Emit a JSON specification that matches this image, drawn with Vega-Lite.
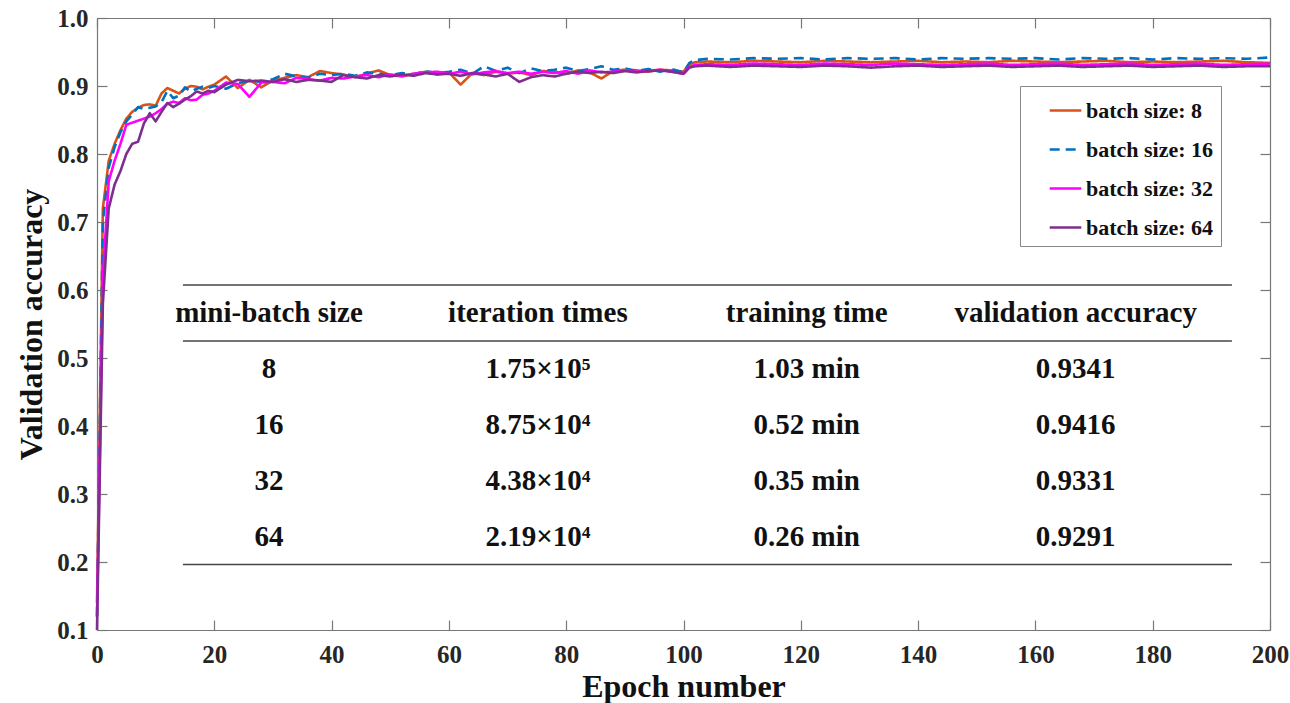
{
  "$schema": "https://vega.github.io/schema/vega-lite/v6.json",
  "width": 1173,
  "height": 612,
  "autosize": {"type": "none"},
  "padding": {"left": 97, "top": 18, "right": 20, "bottom": 73},
  "background": "white",
  "config": {"view": {"stroke": null}, "font": "Liberation Serif"},
  "datasets": {
    "curves": [
      {"e":0,"s":"8","a":0.14},{"e":1,"s":"8","a":0.72},{"e":2,"s":"8","a":0.79},{"e":3,"s":"8","a":0.815},{"e":4,"s":"8","a":0.835},{"e":5,"s":"8","a":0.852},{"e":6,"s":"8","a":0.862},{"e":7,"s":"8","a":0.868},{"e":8,"s":"8","a":0.872},{"e":9,"s":"8","a":0.873},{"e":10,"s":"8","a":0.871},{"e":11,"s":"8","a":0.889},{"e":12,"s":"8","a":0.897},{"e":13,"s":"8","a":0.893},{"e":14,"s":"8","a":0.889},{"e":15,"s":"8","a":0.896},{"e":16,"s":"8","a":0.9},{"e":17,"s":"8","a":0.899},{"e":18,"s":"8","a":0.895},{"e":19,"s":"8","a":0.899},{"e":20,"s":"8","a":0.902},{"e":22,"s":"8","a":0.914},{"e":24,"s":"8","a":0.897},{"e":26,"s":"8","a":0.909},{"e":28,"s":"8","a":0.898},{"e":30,"s":"8","a":0.908},{"e":32,"s":"8","a":0.912},{"e":34,"s":"8","a":0.916},{"e":36,"s":"8","a":0.913},{"e":38,"s":"8","a":0.922},{"e":40,"s":"8","a":0.919},{"e":42,"s":"8","a":0.917},{"e":44,"s":"8","a":0.913},{"e":46,"s":"8","a":0.918},{"e":48,"s":"8","a":0.923},{"e":50,"s":"8","a":0.916},{"e":52,"s":"8","a":0.914},{"e":54,"s":"8","a":0.918},{"e":56,"s":"8","a":0.921},{"e":58,"s":"8","a":0.917},{"e":60,"s":"8","a":0.92},{"e":62,"s":"8","a":0.902},{"e":64,"s":"8","a":0.919},{"e":66,"s":"8","a":0.916},{"e":68,"s":"8","a":0.921},{"e":70,"s":"8","a":0.918},{"e":72,"s":"8","a":0.92},{"e":74,"s":"8","a":0.916},{"e":76,"s":"8","a":0.922},{"e":78,"s":"8","a":0.921},{"e":80,"s":"8","a":0.918},{"e":82,"s":"8","a":0.923},{"e":84,"s":"8","a":0.92},{"e":86,"s":"8","a":0.911},{"e":88,"s":"8","a":0.922},{"e":90,"s":"8","a":0.924},{"e":92,"s":"8","a":0.923},{"e":94,"s":"8","a":0.921},{"e":96,"s":"8","a":0.924},{"e":98,"s":"8","a":0.923},{"e":100,"s":"8","a":0.921},{"e":101,"s":"8","a":0.932},{"e":102,"s":"8","a":0.935},{"e":104,"s":"8","a":0.936},{"e":108,"s":"8","a":0.935},{"e":112,"s":"8","a":0.937},{"e":116,"s":"8","a":0.936},{"e":120,"s":"8","a":0.935},{"e":124,"s":"8","a":0.937},{"e":128,"s":"8","a":0.936},{"e":132,"s":"8","a":0.935},{"e":136,"s":"8","a":0.936},{"e":140,"s":"8","a":0.937},{"e":144,"s":"8","a":0.935},{"e":148,"s":"8","a":0.936},{"e":152,"s":"8","a":0.935},{"e":156,"s":"8","a":0.937},{"e":160,"s":"8","a":0.936},{"e":164,"s":"8","a":0.935},{"e":168,"s":"8","a":0.936},{"e":172,"s":"8","a":0.937},{"e":176,"s":"8","a":0.935},{"e":180,"s":"8","a":0.936},{"e":184,"s":"8","a":0.935},{"e":188,"s":"8","a":0.936},{"e":192,"s":"8","a":0.937},{"e":196,"s":"8","a":0.935},{"e":200,"s":"8","a":0.934},
      {"e":0,"s":"16","a":0.12},{"e":1,"s":"16","a":0.7},{"e":2,"s":"16","a":0.78},{"e":3,"s":"16","a":0.81},{"e":4,"s":"16","a":0.832},{"e":5,"s":"16","a":0.848},{"e":6,"s":"16","a":0.858},{"e":7,"s":"16","a":0.869},{"e":8,"s":"16","a":0.866},{"e":9,"s":"16","a":0.868},{"e":10,"s":"16","a":0.87},{"e":11,"s":"16","a":0.876},{"e":12,"s":"16","a":0.893},{"e":13,"s":"16","a":0.882},{"e":14,"s":"16","a":0.886},{"e":15,"s":"16","a":0.898},{"e":16,"s":"16","a":0.892},{"e":17,"s":"16","a":0.896},{"e":18,"s":"16","a":0.899},{"e":19,"s":"16","a":0.897},{"e":20,"s":"16","a":0.9},{"e":22,"s":"16","a":0.896},{"e":24,"s":"16","a":0.904},{"e":26,"s":"16","a":0.908},{"e":28,"s":"16","a":0.906},{"e":30,"s":"16","a":0.91},{"e":32,"s":"16","a":0.918},{"e":34,"s":"16","a":0.914},{"e":36,"s":"16","a":0.912},{"e":38,"s":"16","a":0.918},{"e":40,"s":"16","a":0.916},{"e":42,"s":"16","a":0.918},{"e":44,"s":"16","a":0.915},{"e":46,"s":"16","a":0.92},{"e":48,"s":"16","a":0.918},{"e":50,"s":"16","a":0.916},{"e":52,"s":"16","a":0.919},{"e":54,"s":"16","a":0.917},{"e":56,"s":"16","a":0.922},{"e":58,"s":"16","a":0.919},{"e":60,"s":"16","a":0.921},{"e":62,"s":"16","a":0.924},{"e":64,"s":"16","a":0.918},{"e":66,"s":"16","a":0.929},{"e":68,"s":"16","a":0.922},{"e":70,"s":"16","a":0.927},{"e":72,"s":"16","a":0.919},{"e":74,"s":"16","a":0.926},{"e":76,"s":"16","a":0.922},{"e":78,"s":"16","a":0.924},{"e":80,"s":"16","a":0.927},{"e":82,"s":"16","a":0.922},{"e":84,"s":"16","a":0.925},{"e":86,"s":"16","a":0.929},{"e":88,"s":"16","a":0.924},{"e":90,"s":"16","a":0.926},{"e":92,"s":"16","a":0.922},{"e":94,"s":"16","a":0.925},{"e":96,"s":"16","a":0.921},{"e":98,"s":"16","a":0.925},{"e":100,"s":"16","a":0.92},{"e":101,"s":"16","a":0.934},{"e":102,"s":"16","a":0.938},{"e":104,"s":"16","a":0.94},{"e":108,"s":"16","a":0.939},{"e":112,"s":"16","a":0.941},{"e":116,"s":"16","a":0.94},{"e":120,"s":"16","a":0.941},{"e":124,"s":"16","a":0.939},{"e":128,"s":"16","a":0.941},{"e":132,"s":"16","a":0.94},{"e":136,"s":"16","a":0.941},{"e":140,"s":"16","a":0.939},{"e":144,"s":"16","a":0.941},{"e":148,"s":"16","a":0.94},{"e":152,"s":"16","a":0.941},{"e":156,"s":"16","a":0.94},{"e":160,"s":"16","a":0.941},{"e":164,"s":"16","a":0.939},{"e":168,"s":"16","a":0.941},{"e":172,"s":"16","a":0.94},{"e":176,"s":"16","a":0.941},{"e":180,"s":"16","a":0.939},{"e":184,"s":"16","a":0.941},{"e":188,"s":"16","a":0.94},{"e":192,"s":"16","a":0.941},{"e":196,"s":"16","a":0.94},{"e":200,"s":"16","a":0.942},
      {"e":0,"s":"32","a":0.12},{"e":1,"s":"32","a":0.62},{"e":2,"s":"32","a":0.76},{"e":3,"s":"32","a":0.79},{"e":4,"s":"32","a":0.815},{"e":5,"s":"32","a":0.843},{"e":6,"s":"32","a":0.846},{"e":7,"s":"32","a":0.849},{"e":8,"s":"32","a":0.852},{"e":9,"s":"32","a":0.855},{"e":10,"s":"32","a":0.86},{"e":11,"s":"32","a":0.866},{"e":12,"s":"32","a":0.874},{"e":13,"s":"32","a":0.877},{"e":14,"s":"32","a":0.875},{"e":15,"s":"32","a":0.882},{"e":16,"s":"32","a":0.879},{"e":17,"s":"32","a":0.88},{"e":18,"s":"32","a":0.887},{"e":19,"s":"32","a":0.889},{"e":20,"s":"32","a":0.893},{"e":22,"s":"32","a":0.905},{"e":24,"s":"32","a":0.903},{"e":26,"s":"32","a":0.884},{"e":28,"s":"32","a":0.905},{"e":30,"s":"32","a":0.906},{"e":32,"s":"32","a":0.904},{"e":34,"s":"32","a":0.912},{"e":36,"s":"32","a":0.91},{"e":38,"s":"32","a":0.908},{"e":40,"s":"32","a":0.912},{"e":42,"s":"32","a":0.911},{"e":44,"s":"32","a":0.914},{"e":46,"s":"32","a":0.916},{"e":48,"s":"32","a":0.913},{"e":50,"s":"32","a":0.917},{"e":52,"s":"32","a":0.915},{"e":54,"s":"32","a":0.918},{"e":56,"s":"32","a":0.92},{"e":58,"s":"32","a":0.921},{"e":60,"s":"32","a":0.918},{"e":62,"s":"32","a":0.921},{"e":64,"s":"32","a":0.917},{"e":66,"s":"32","a":0.92},{"e":68,"s":"32","a":0.922},{"e":70,"s":"32","a":0.919},{"e":72,"s":"32","a":0.921},{"e":74,"s":"32","a":0.918},{"e":76,"s":"32","a":0.921},{"e":78,"s":"32","a":0.919},{"e":80,"s":"32","a":0.922},{"e":82,"s":"32","a":0.918},{"e":84,"s":"32","a":0.923},{"e":86,"s":"32","a":0.92},{"e":88,"s":"32","a":0.921},{"e":90,"s":"32","a":0.923},{"e":92,"s":"32","a":0.921},{"e":94,"s":"32","a":0.922},{"e":96,"s":"32","a":0.924},{"e":98,"s":"32","a":0.921},{"e":100,"s":"32","a":0.918},{"e":101,"s":"32","a":0.928},{"e":102,"s":"32","a":0.931},{"e":104,"s":"32","a":0.932},{"e":108,"s":"32","a":0.931},{"e":112,"s":"32","a":0.933},{"e":116,"s":"32","a":0.932},{"e":120,"s":"32","a":0.931},{"e":124,"s":"32","a":0.933},{"e":128,"s":"32","a":0.932},{"e":132,"s":"32","a":0.931},{"e":136,"s":"32","a":0.933},{"e":140,"s":"32","a":0.932},{"e":144,"s":"32","a":0.931},{"e":148,"s":"32","a":0.932},{"e":152,"s":"32","a":0.933},{"e":156,"s":"32","a":0.931},{"e":160,"s":"32","a":0.932},{"e":164,"s":"32","a":0.933},{"e":168,"s":"32","a":0.931},{"e":172,"s":"32","a":0.932},{"e":176,"s":"32","a":0.933},{"e":180,"s":"32","a":0.931},{"e":184,"s":"32","a":0.932},{"e":188,"s":"32","a":0.933},{"e":192,"s":"32","a":0.931},{"e":196,"s":"32","a":0.932},{"e":200,"s":"32","a":0.933},
      {"e":0,"s":"64","a":0.1},{"e":1,"s":"64","a":0.58},{"e":2,"s":"64","a":0.72},{"e":3,"s":"64","a":0.755},{"e":4,"s":"64","a":0.775},{"e":5,"s":"64","a":0.8},{"e":6,"s":"64","a":0.815},{"e":7,"s":"64","a":0.818},{"e":8,"s":"64","a":0.845},{"e":9,"s":"64","a":0.86},{"e":10,"s":"64","a":0.848},{"e":11,"s":"64","a":0.862},{"e":12,"s":"64","a":0.875},{"e":13,"s":"64","a":0.869},{"e":14,"s":"64","a":0.874},{"e":15,"s":"64","a":0.88},{"e":16,"s":"64","a":0.885},{"e":17,"s":"64","a":0.892},{"e":18,"s":"64","a":0.889},{"e":19,"s":"64","a":0.893},{"e":20,"s":"64","a":0.891},{"e":22,"s":"64","a":0.902},{"e":24,"s":"64","a":0.909},{"e":26,"s":"64","a":0.907},{"e":28,"s":"64","a":0.908},{"e":30,"s":"64","a":0.906},{"e":32,"s":"64","a":0.91},{"e":34,"s":"64","a":0.906},{"e":36,"s":"64","a":0.909},{"e":38,"s":"64","a":0.908},{"e":40,"s":"64","a":0.906},{"e":42,"s":"64","a":0.916},{"e":44,"s":"64","a":0.913},{"e":46,"s":"64","a":0.911},{"e":48,"s":"64","a":0.916},{"e":50,"s":"64","a":0.914},{"e":52,"s":"64","a":0.917},{"e":54,"s":"64","a":0.915},{"e":56,"s":"64","a":0.919},{"e":58,"s":"64","a":0.917},{"e":60,"s":"64","a":0.918},{"e":62,"s":"64","a":0.915},{"e":64,"s":"64","a":0.919},{"e":66,"s":"64","a":0.917},{"e":68,"s":"64","a":0.914},{"e":70,"s":"64","a":0.918},{"e":72,"s":"64","a":0.906},{"e":74,"s":"64","a":0.913},{"e":76,"s":"64","a":0.916},{"e":78,"s":"64","a":0.914},{"e":80,"s":"64","a":0.918},{"e":82,"s":"64","a":0.921},{"e":84,"s":"64","a":0.919},{"e":86,"s":"64","a":0.921},{"e":88,"s":"64","a":0.919},{"e":90,"s":"64","a":0.922},{"e":92,"s":"64","a":0.92},{"e":94,"s":"64","a":0.922},{"e":96,"s":"64","a":0.923},{"e":98,"s":"64","a":0.921},{"e":100,"s":"64","a":0.918},{"e":101,"s":"64","a":0.927},{"e":102,"s":"64","a":0.929},{"e":104,"s":"64","a":0.93},{"e":108,"s":"64","a":0.928},{"e":112,"s":"64","a":0.93},{"e":116,"s":"64","a":0.929},{"e":120,"s":"64","a":0.928},{"e":124,"s":"64","a":0.93},{"e":128,"s":"64","a":0.929},{"e":132,"s":"64","a":0.927},{"e":136,"s":"64","a":0.929},{"e":140,"s":"64","a":0.93},{"e":144,"s":"64","a":0.928},{"e":148,"s":"64","a":0.929},{"e":152,"s":"64","a":0.93},{"e":156,"s":"64","a":0.928},{"e":160,"s":"64","a":0.929},{"e":164,"s":"64","a":0.93},{"e":168,"s":"64","a":0.928},{"e":172,"s":"64","a":0.929},{"e":176,"s":"64","a":0.93},{"e":180,"s":"64","a":0.928},{"e":184,"s":"64","a":0.929},{"e":188,"s":"64","a":0.93},{"e":192,"s":"64","a":0.928},{"e":196,"s":"64","a":0.929},{"e":200,"s":"64","a":0.929}
    ],
    "table": [
      {"r":0,"c":0,"t":"mini-batch size"},{"r":0,"c":1,"t":"iteration times"},{"r":0,"c":2,"t":"training time"},{"r":0,"c":3,"t":"validation accuracy"},
      {"r":1,"c":0,"t":"8"},{"r":1,"c":1,"t":"1.75×10⁵"},{"r":1,"c":2,"t":"1.03 min"},{"r":1,"c":3,"t":"0.9341"},
      {"r":2,"c":0,"t":"16"},{"r":2,"c":1,"t":"8.75×10⁴"},{"r":2,"c":2,"t":"0.52 min"},{"r":2,"c":3,"t":"0.9416"},
      {"r":3,"c":0,"t":"32"},{"r":3,"c":1,"t":"4.38×10⁴"},{"r":3,"c":2,"t":"0.35 min"},{"r":3,"c":3,"t":"0.9331"},
      {"r":4,"c":0,"t":"64"},{"r":4,"c":1,"t":"2.19×10⁴"},{"r":4,"c":2,"t":"0.26 min"},{"r":4,"c":3,"t":"0.9291"}
    ],
    "rules": [{"r":-0.5},{"r":0.5},{"r":4.5}]
  },
  "layer": [
    {
      "data": {"name": "curves"},
      "mark": {"type": "line", "strokeWidth": 2.6, "strokeJoin": "round"},
      "encoding": {
        "x": {
          "field": "e", "type": "quantitative",
          "scale": {"domain": [0, 200], "nice": false, "zero": false},
          "axis": {
            "orient": "bottom", "values": [0,20,40,60,80,100,120,140,160,180,200], "format": "d",
            "grid": false, "tickSize": -10, "labelPadding": 22, "tickColor": "#777", "domainColor": "#777",
            "tickWidth": 1.2, "domainWidth": 1.2, "labelFont": "Liberation Serif", "labelFontWeight": "bold",
            "labelFontSize": 25, "labelColor": "#262626", "labelFlush": false, "labelOverlap": false,
            "title": "Epoch number", "titleFont": "Liberation Serif", "titleFontWeight": "bold",
            "titleFontSize": 32, "titleColor": "#111", "titlePadding": 4
          }
        },
        "y": {
          "field": "a", "type": "quantitative",
          "scale": {"domain": [0.1, 1.0], "nice": false, "zero": false},
          "axis": {
            "orient": "left", "values": [0.1,0.2,0.3,0.4,0.5,0.6,0.7,0.8,0.9,1.0], "format": ".1f",
            "grid": false, "tickSize": -10, "labelPadding": 19, "tickColor": "#777", "domainColor": "#777",
            "tickWidth": 1.2, "domainWidth": 1.2, "labelFont": "Liberation Serif", "labelFontWeight": "bold",
            "labelFontSize": 25, "labelColor": "#262626", "labelFlush": false, "labelOverlap": false,
            "title": "Validation accuracy", "titleFont": "Liberation Serif", "titleFontWeight": "bold",
            "titleFontSize": 32, "titleColor": "#111", "titlePadding": 8
          }
        },
        "color": {
          "field": "s", "type": "nominal", "sort": ["8","16","32","64"],
          "scale": {"domain": ["8","16","32","64"], "range": ["#D95319","#0072BD","#FF00FF","#7E2F8E"]},
          "legend": {
            "title": null, "orient": "none", "legendX": 923, "legendY": 68,
            "labelExpr": "'batch size: ' + datum.label",
            "labelFont": "Liberation Serif", "labelFontWeight": "bold", "labelFontSize": 22, "labelColor": "#111",
            "labelLimit": 300, "labelOffset": 3,
            "symbolType": "stroke", "symbolSize": 1000, "symbolStrokeWidth": 2.6, "symbolOffset": 21,
            "padding": 7, "rowPadding": 10, "strokeColor": "#888", "fillColor": "white"
          }
        },
        "strokeDash": {
          "field": "s", "type": "nominal", "sort": ["8","16","32","64"],
          "scale": {"domain": ["8","16","32","64"], "range": [[1,0],[10,6],[1,0],[1,0]]},
          "legend": {
            "title": null, "orient": "none", "legendX": 923, "legendY": 68,
            "labelExpr": "'batch size: ' + datum.label",
            "labelFont": "Liberation Serif", "labelFontWeight": "bold", "labelFontSize": 22, "labelColor": "#111",
            "labelLimit": 300, "labelOffset": 3,
            "symbolType": "stroke", "symbolSize": 1000, "symbolStrokeWidth": 2.6, "symbolOffset": 21,
            "padding": 7, "rowPadding": 10, "strokeColor": "#888", "fillColor": "white"
          }
        }
      }
    },
    {
      "data": {"name": "curves"},
      "mark": {"type": "line", "opacity": 0},
      "encoding": {
        "x": {
          "field": "e", "type": "quantitative",
          "scale": {"domain": [0, 200], "nice": false, "zero": false},
          "axis": {"orient": "top", "values": [0,20,40,60,80,100,120,140,160,180,200], "labels": false, "title": null,
                   "grid": false, "tickSize": -10, "tickColor": "#777", "domainColor": "#777", "tickWidth": 1.2, "domainWidth": 1.2}
        },
        "y": {
          "field": "a", "type": "quantitative",
          "scale": {"domain": [0.1, 1.0], "nice": false, "zero": false},
          "axis": {"orient": "right", "values": [0.1,0.2,0.3,0.4,0.5,0.6,0.7,0.8,0.9,1.0], "labels": false, "title": null,
                   "grid": false, "tickSize": -10, "tickColor": "#777", "domainColor": "#777", "tickWidth": 1.2, "domainWidth": 1.2}
        }
      }
    },
    {
      "layer": [
        {
          "data": {"name": "rules"},
          "mark": {"type": "rule", "stroke": "#444", "strokeWidth": 1.5},
          "encoding": {
            "y": {"field": "r", "type": "quantitative", "scale": {"domain": [-5.277, 5.671], "reverse": true, "nice": false, "zero": false}, "axis": null},
            "x": {"datum": -0.32, "type": "quantitative", "scale": {"domain": [-0.6396, 3.7226], "nice": false, "zero": false}, "axis": null},
            "x2": {"datum": 3.581}
          }
        },
        {
          "data": {"name": "table"},
          "mark": {"type": "text", "font": "Liberation Serif", "fontWeight": "bold", "fontSize": 29, "align": "center", "baseline": "middle", "color": "#111"},
          "encoding": {
            "x": {"field": "c", "type": "quantitative", "axis": null},
            "y": {"field": "r", "type": "quantitative", "axis": null},
            "text": {"field": "t"}
          }
        }
      ]
    }
  ],
  "resolve": {"scale": {"x": "independent", "y": "independent"}, "axis": {"x": "independent", "y": "independent"}}
}
